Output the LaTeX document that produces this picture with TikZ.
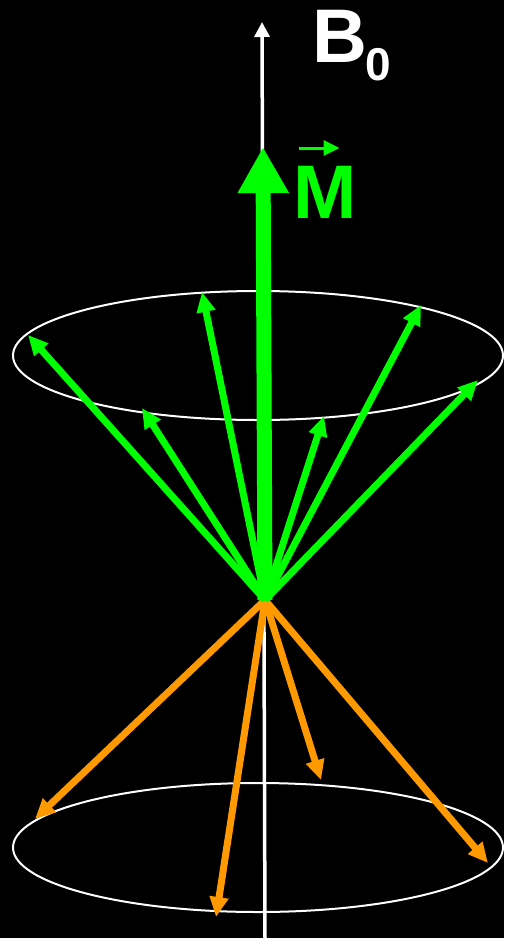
\documentclass[tikz,border=0pt]{standalone}
\usepackage{fontspec}
\setmainfont{Liberation Sans}
\usetikzlibrary{arrows.meta,calc}
\definecolor{lime}{HTML}{00FF00}
\definecolor{amber}{HTML}{FF9900}
\tikzset{
  axis/.style={draw=white,line width=3.5pt,-{Triangle[length=15pt,width=15pt]}},
  rim/.style={draw=white,line width=2pt},
  spin/.style={draw=lime,line width=7pt,-{Triangle[length=20pt,width=18pt]}},
  flip/.style={spin,draw=amber},
  net/.style={draw=lime,line width=15pt,-{Triangle[length=46pt,width=48pt]}},
  vec/.style={draw=lime,line width=3pt,-{Triangle[length=16pt,width=15pt]}},
  lbl/.style={inner sep=0pt,anchor=base west,font=\bfseries\fontsize{76}{76}\selectfont},
}

\begin{document}
\begin{tikzpicture}[x=1pt,y=-1pt]
    \useasboundingbox (0,0) rectangle (504,938);
    \fill[black] (0,0) rectangle (504,938);
    \coordinate (o) at (265,600);
    \coordinate (foot) at (265,938);
    \coordinate (top) at (262,22);
    % field axis
    \draw[axis] (foot) -- (top);
    % precession cones
    \draw[rim] (258,355.5) ellipse [x radius=245, y radius=64.5];
    \draw[rim] (258,847.5) ellipse [x radius=245, y radius=64.5];
    % antiparallel spins
    \coordinate (a1) at (35,819);
    \coordinate (a2) at (216,917);
    \coordinate (a3) at (321,780);
    \coordinate (a4) at (488,863);
    \foreach \t in {a1,a2,a3,a4}
      \draw[flip] (o) -- (\t);
    % parallel spins
    \coordinate (p1) at (28,335);
    \coordinate (p2) at (202,292);
    \coordinate (p3) at (142,408);
    \coordinate (p4) at (421,305);
    \coordinate (p5) at (478,380);
    \coordinate (p6) at (324,416);
    \foreach \t in {p1,p2,p3,p4,p5,p6}
      \draw[spin] (o) -- (\t);
    % net magnetization
    \coordinate (mtip) at (263,147);
    \draw[net] (o) -- (mtip);
    \node[lbl,text=white] (bzero) at (312,62) {B\kern-2pt\raisebox{-18pt}{\fontsize{46}{46}\selectfont 0}};
    \node[lbl,text=lime] (mlab) at (293.5,218) {M};
    \draw[vec] ($(mlab.base west)+(5,-70)$) -- ($(mlab.base west)+(46,-70)$);
\end{tikzpicture}
\end{document}
